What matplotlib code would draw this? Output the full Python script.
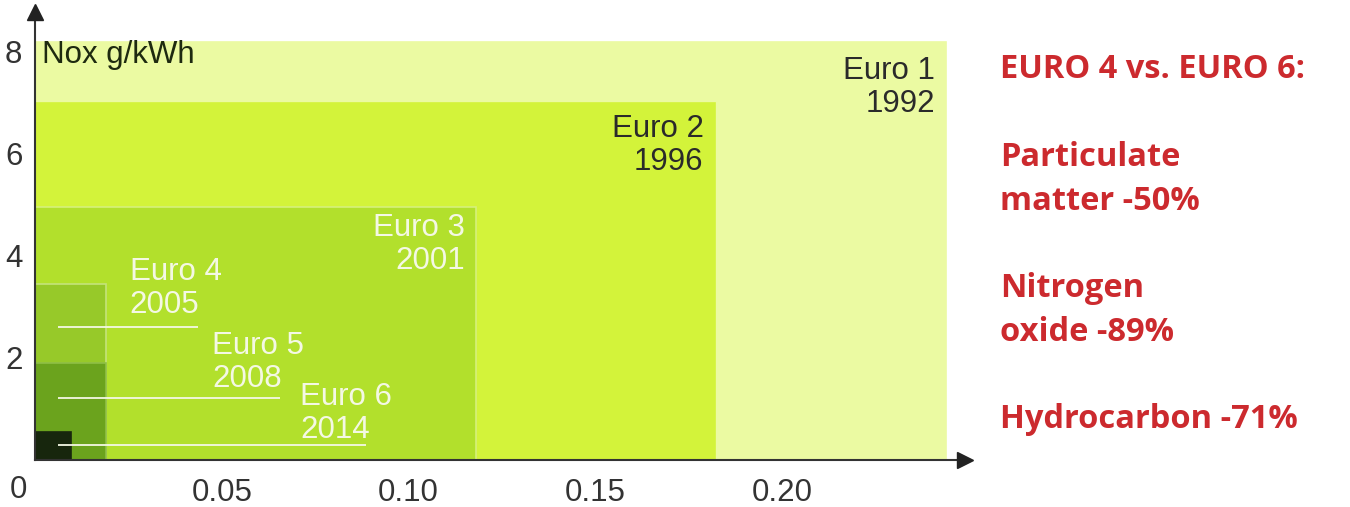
import matplotlib.pyplot as plt

plt.rcParams['font.family'] = ['Liberation Sans', 'DejaVu Sans']

# emission standards: PM g/kWh (x) vs NOx g/kWh (y)
stages = ["Euro 1", "Euro 2", "Euro 3", "Euro 4", "Euro 5", "Euro 6"]
years = ["1992", "1996", "2001", "2005", "2008", "2014"]
pm = [0.244, 0.182, 0.118, 0.019, 0.019, 0.0096]
nox = [8.2, 7.0, 4.95, 3.45, 1.9, 0.55]
colors = ["#ebfaa2", "#d3f33a", "#b2e02c", "#97c929", "#6ba31d", "#17260d"]
edges = ["#ebfaa2", "#d3f33a", "#d6f07a", "#c4e37a", "#8fbf45", "#17260d"]

xticks = [0.05, 0.10, 0.15, 0.20]
xticklabels = ["0.05", "0.10", "0.15", "0.20"]
yticks = [2, 4, 6, 8]

notes = ["EURO 4 vs. EURO 6:", "", "Particulate", "matter -50%", "",
         "Nitrogen", "oxide -89%", "", "Hydrocarbon -71%"]

fs = 22.5

fig = plt.figure(figsize=(13.5, 5.07), dpi=100)
W, H = 1350, 507
ax = fig.add_axes([35 / W, (H - 460) / H, (965 - 35) / W, (460 - 12) / H])
ax.set_xlim(0, 0.249)
ax.set_ylim(0, 8.78)

for i in range(len(stages)):
    ax.bar(0, nox[i], width=pm[i], align="edge", color=colors[i],
           edgecolor=edges[i], linewidth=1.2, zorder=2 + i)

# labels for the big boxes, right aligned at the box corner
drop = [0.28, 0.22, 0.11]
for i in range(3):
    tc = "#2a2a2a" if i < 2 else "#f4f8e4"
    ax.text(pm[i] - 0.003, nox[i] - drop[i], stages[i] + "\n" + years[i],
            ha="right", va="top", fontsize=fs, color=tc,
            linespacing=1.12, zorder=10)

# small boxes: labels off to the right with white leader lines
lab_x = [0.0254, 0.0474, 0.071]
lab_y = [3.97, 2.53, 1.53]
lead_y = [2.6, 1.22, 0.3]
lead_end = [0.0436, 0.0656, 0.0886]
for k, i in enumerate([3, 4, 5]):
    ax.text(lab_x[k], lab_y[k], stages[i] + "\n" + years[i],
            ha="left", va="top", fontsize=fs, color="#f4f8e4",
            linespacing=1.12, zorder=10)
    ax.hlines(lead_y[k], 0.0062, lead_end[k], color="#f4f8e4",
              linewidth=1.3, zorder=10)

ax.text(0.0018, 8.24, "Nox g/kWh", ha="left", va="top", fontsize=fs,
        color="#1e2a10", zorder=10)

# axes with arrows
for s in ["top", "right"]:
    ax.spines[s].set_visible(False)
for s in ["left", "bottom"]:
    ax.spines[s].set_color("#333333")
    ax.spines[s].set_linewidth(1.5)
    ax.spines[s].set_zorder(20)
ax.plot(1, 0, ">", color="#222222", markersize=11, transform=ax.transAxes,
        clip_on=False, zorder=21)
ax.plot(0, 1, "^", color="#222222", markersize=11, transform=ax.transAxes,
        clip_on=False, zorder=21)

ax.set_xticks(xticks)
ax.set_xticklabels(xticklabels)
ax.set_yticks(yticks)
ax.tick_params(length=0, labelsize=fs, labelcolor="#333333")
ax.tick_params(axis="x", pad=13)
ax.tick_params(axis="y", pad=9)
fig.text(18 / W, 1 - 490 / H, "0", ha="center", va="center", fontsize=fs,
         color="#333333")

# red notes on the right
y0 = 70
for line in notes:
    if line:
        fig.text(1000 / W, 1 - y0 / H, line, ha="left", va="center",
                 fontsize=23.5, fontweight="bold", color="#cc2a2e",
                 family=["Open Sans", "DejaVu Sans"])
    y0 += 43.7

fig.savefig("out.png", dpi=100)
